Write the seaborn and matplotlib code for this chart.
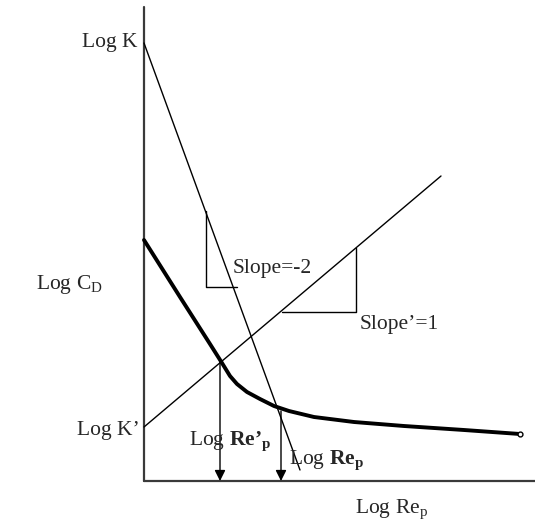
import matplotlib
matplotlib.use("Agg")
import matplotlib.pyplot as plt
import numpy as np
import seaborn as sns

# schematic drag curve, axes in arbitrary log units
log_k = 4.38
log_k_prime = 0.54
steep_x = [0.0, 1.56]
steep_y = [log_k, 0.11]
slope1_x = [0.0, 2.97]
slope1_y = [log_k_prime, 3.05]
curve_x = [0.0, 0.36, 0.66, 0.78, 0.86, 0.93, 1.03, 1.16, 1.30, 1.45, 1.70, 2.10, 2.60, 3.20, 3.76]
curve_y = [2.41, 1.84, 1.37, 1.18, 1.05, 0.97, 0.89, 0.82, 0.75, 0.70, 0.64, 0.59, 0.55, 0.51, 0.47]
tri1_x = [0.62, 0.62, 0.93]
tri1_y = [2.70, 1.94, 1.94]
tri2_x = [1.38, 2.12, 2.12]
tri2_y = [1.69, 1.69, 2.33]
arrow_x = [0.76, 1.37]
arrow_top = [1.19, 0.70]

sns.set_style("white")
plt.rcParams["font.family"] = ["Liberation Serif", "DejaVu Serif"]
plt.rcParams["mathtext.fontset"] = "custom"
plt.rcParams["mathtext.rm"] = "Liberation Serif"
plt.rcParams["mathtext.bf"] = "Liberation Serif:bold"

fig = plt.figure(figsize=(5.35, 5.24), dpi=100)
ax = fig.add_axes([0, 0, 1, 1])
ax.set_xlim(-1.44, 3.91)
ax.set_ylim(-0.43, 4.81)
ax.axis("off")

# axes of the diagram
sns.lineplot(x=[0, 0], y=[0, 4.74], sort=False, estimator=None, color="#3a3a3a", lw=1.6, ax=ax)
sns.lineplot(x=[0, 3.91], y=[0, 0], sort=False, estimator=None, color="#3a3a3a", lw=1.6, ax=ax)

sns.lineplot(x=steep_x, y=steep_y, sort=False, estimator=None, color="black", lw=1, ax=ax)
sns.lineplot(x=slope1_x, y=slope1_y, sort=False, estimator=None, color="black", lw=1, ax=ax)
sns.lineplot(x=tri1_x, y=tri1_y, sort=False, estimator=None, color="black", lw=1, ax=ax)
sns.lineplot(x=tri2_x, y=tri2_y, sort=False, estimator=None, color="black", lw=1, ax=ax)
sns.lineplot(x=curve_x, y=curve_y, sort=False, estimator=None, color="black", lw=2.8, ax=ax)
ax.plot(curve_x[-1], curve_y[-1], "o", ms=3.5, mfc="white", mec="black", mew=1)

for xa, ya in zip(arrow_x, arrow_top):
    ax.annotate("", xy=(xa, 0), xytext=(xa, ya),
                arrowprops=dict(arrowstyle="-|>", mutation_scale=16, lw=1,
                                color="black", shrinkA=0, shrinkB=0))

fs = 15.5
ax.text(-0.07, log_k, "Log K", ha="right", va="center", fontsize=fs)
ax.text(-0.04, 0.50, "Log K\u2019", ha="right", va="center", fontsize=fs)
ax.text(-1.08, 1.97, r"Log C$_\mathregular{D}$", ha="left", va="center", fontsize=fs)
ax.text(2.11, -0.29, r"Log Re$_\mathregular{p}$", ha="left", va="center", fontsize=fs)
ax.text(0.89, 2.13, "Slope=-2", ha="left", va="center", fontsize=fs)
ax.text(2.16, 1.56, "Slope\u2019=1", ha="left", va="center", fontsize=fs)
ax.text(0.45, 0.39, "Log $\\mathbf{Re\u2019}_\\mathbf{p}$", ha="left", va="center", fontsize=fs)
ax.text(1.45, 0.20, r"Log $\mathbf{Re}_\mathbf{p}$", ha="left", va="center", fontsize=fs)

fig.savefig("out.png", dpi=100)
